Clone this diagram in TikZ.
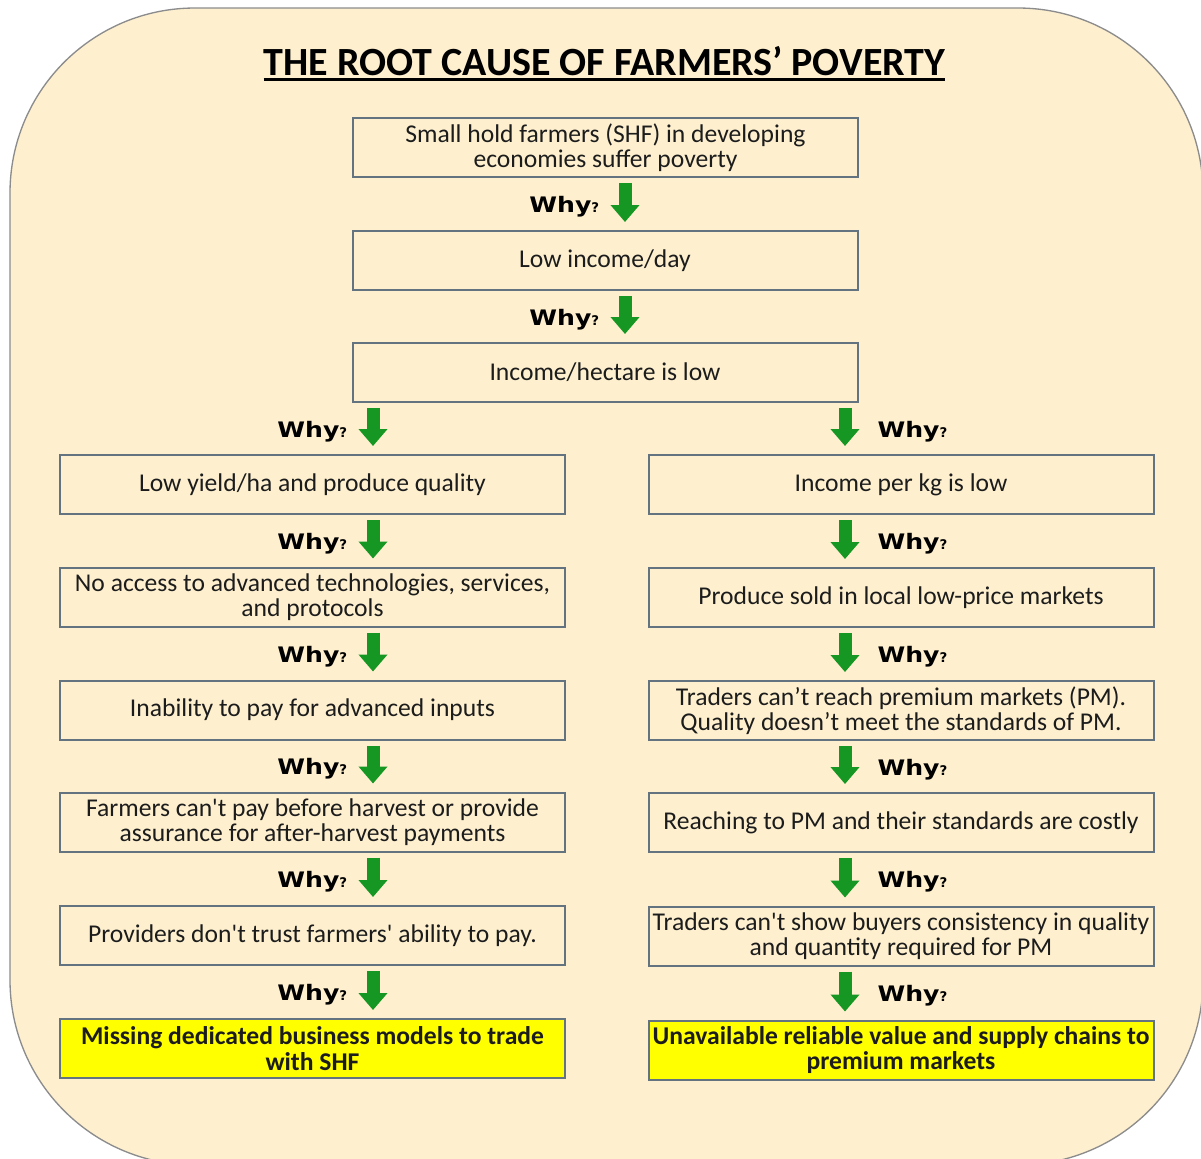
\documentclass[tikz,border=0pt]{standalone}
\usepackage{fontspec}
\setmainfont{Carlito}[Ligatures=TeXOff]
\newfontfamily\whyfont{DejaVu Sans}
\usepackage{graphicx}
\usetikzlibrary{arrows.meta}
\definecolor{bgc}{RGB}{254,240,207}
\definecolor{framec}{RGB}{140,140,140}
\definecolor{boxc}{RGB}{100,115,128}
\definecolor{garr}{RGB}{22,150,34}
\definecolor{hl}{RGB}{255,255,0}
\definecolor{txt}{RGB}{28,28,28}
\newcommand{\boxfont}{\fontsize{19.2}{19.2}\selectfont}
\newcommand{\whytext}{{\whyfont\bfseries\fontsize{16}{16}\selectfont\scalebox{1.18}[1]{Why}{\fontsize{10}{10}\selectfont ?}}}
\begin{document}
\begin{tikzpicture}[x=0.75pt,y=-0.75pt,
  box/.style={draw=boxc, line width=1.5pt, align=center, inner sep=0pt,
    minimum width=378.75pt, minimum height=44.25pt, font=\boxfont, text=txt},
  final/.style={box, fill=hl, font=\boxfont\bfseries},
  garrow/.style={draw=garr, line width=9.75pt, -{Triangle[width=21pt,length=12.75pt]},
    shorten <=3.75pt, shorten >=6pt},
  whyl/.style={pos=0.5, anchor=base east, xshift=-14.5pt, yshift=-6.5pt, inner sep=0pt, text=black},
  whyr/.style={pos=0.5, anchor=base west, xshift=19.5pt, yshift=-6.5pt, inner sep=0pt, text=black}
]
\clip (0,0) rectangle (1201,1158);
\useasboundingbox (0,0) rectangle (1201,1158);
\fill[white] (0,0) rectangle (1201,1158);
\draw[draw=framec, fill=bgc, line width=1pt, rounded corners=138.75pt] (10,8) rectangle (1203,1165);

% title
\node[font=\bfseries\fontsize{30}{36}\selectfont, inner sep=0pt, anchor=base, text=black] (title) at (604.5,75) {THE ROOT CAUSE OF FARMERS’ POVERTY};
\draw[line width=1.9pt] ([yshift=-3.5pt]title.base west) -- ([yshift=-3.5pt]title.base east);

% x positions of arrows
\coordinate (cx) at (625,0);
\coordinate (lx) at (373,0);
\coordinate (rx) at (845,0);

% centre chain
\node[box] (b1) at (605.5,147.5) {Small hold farmers (SHF) in developing\\economies suffer poverty};
\node[box] (b2) at (605,260.5) {Low income/day};
\node[box] (b3) at (605,372.5) {Income/hectare is low};

% left column
\node[box] (l1) at (312.5,484.5) {Low yield/ha and produce quality};
\node[box] (l2) at (312.5,597) {No access to advanced technologies, services,\\and protocols};
\node[box] (l3) at (312.5,710) {Inability to pay for advanced inputs};
\node[box] (l4) at (312.5,822) {Farmers can't pay before harvest or provide\\assurance for after-harvest payments};
\node[box] (l5) at (312.5,935.5) {Providers don't trust farmers' ability to pay.};
\node[final] (l6) at (312.5,1048.5) {Missing dedicated business models to trade\\with SHF};

% right column
\node[box] (r1) at (901,484.5) {Income per kg is low};
\node[box] (r2) at (901,597.5) {Produce sold in local low-price markets};
\node[box] (r3) at (901,710.5) {Traders can’t reach premium markets (PM).\\Quality doesn’t meet the standards of PM.};
\node[box] (r4) at (901,822.5) {Reaching to PM and their standards are costly};
\node[box] (r5) at (901,936) {Traders can't show buyers consistency in quality\\and quantity required for PM};
\node[final] (r6) at (901,1050) {Unavailable reliable value and supply chains to\\premium markets};

% arrows
\draw[garrow] (b1.south -| cx) -- (b2.north -| cx) node[whyl] (w1) {\whytext};
\draw[garrow] (b2.south -| cx) -- (b3.north -| cx) node[whyl] (w2) {\whytext};
\draw[garrow] (b3.south -| lx) -- (l1.north -| lx) node[whyl] (w3) {\whytext};
\draw[garrow] (b3.south -| rx) -- (r1.north -| rx) node[whyr] (w4) {\whytext};

\draw[garrow] (l1.south -| lx) -- (l2.north -| lx) node[whyl] (w5) {\whytext};
\draw[garrow] (l2.south -| lx) -- (l3.north -| lx) node[whyl] (w6) {\whytext};
\draw[garrow] (l3.south -| lx) -- (l4.north -| lx) node[whyl] (w7) {\whytext};
\draw[garrow] (l4.south -| lx) -- (l5.north -| lx) node[whyl] (w8) {\whytext};
\draw[garrow] (l5.south -| lx) -- (l6.north -| lx) node[whyl] (w9) {\whytext};

\draw[garrow] (r1.south -| rx) -- (r2.north -| rx) node[whyr] (w10) {\whytext};
\draw[garrow] (r2.south -| rx) -- (r3.north -| rx) node[whyr] (w11) {\whytext};
\draw[garrow] (r3.south -| rx) -- (r4.north -| rx) node[whyr] (w12) {\whytext};
\draw[garrow] (r4.south -| rx) -- (r5.north -| rx) node[whyr] (w13) {\whytext};
\draw[garrow] (r5.south -| rx) -- (r6.north -| rx) node[whyr] (w14) {\whytext};
\end{tikzpicture}
\end{document}
